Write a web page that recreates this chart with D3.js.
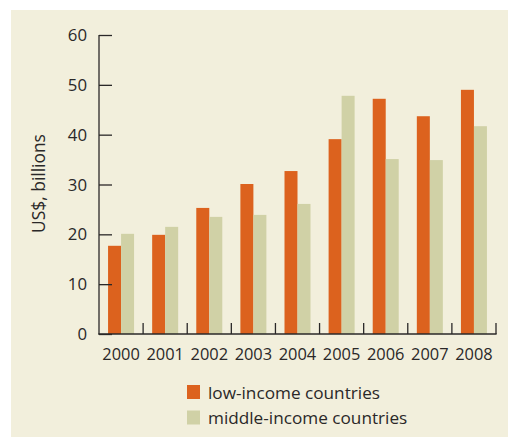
<!DOCTYPE html>
<html><head><meta charset="utf-8">
<script src="https://cdn.jsdelivr.net/npm/d3@7/dist/d3.min.js"></script>
<style>body{margin:0;background:#fff}svg{display:block}text{font-family:"Open Sans",sans-serif;fill:#2a2828}</style>
</head><body>
<svg id="c" width="508" height="438"></svg>
<script>
const years = ["2000","2001","2002","2003","2004","2005","2006","2007","2008"];
const lowIncome = [17.7, 19.9, 25.3, 30.1, 32.7, 39.1, 47.2, 43.7, 49.0];
const middleIncome = [20.1, 21.5, 23.5, 23.9, 26.1, 47.8, 35.1, 34.9, 41.7];
const yTicks = [0, 10, 20, 30, 40, 50, 60];
const seriesNames = ["low-income countries", "middle-income countries"];
const colors = ["#dc621e", "#d0d1a6"];

const svg = d3.select("#c");
svg.append("rect").attr("x", 11).attr("y", 10).attr("width", 497).attr("height", 427).attr("fill", "#f2efdc");

const x = d3.scaleBand().domain(years).range([99, 496]).paddingInner(0).paddingOuter(0);
const y = d3.scaleLinear().domain([0, 60]).range([334, 35]);
const barW = 13;

const series = [lowIncome, middleIncome];
series.forEach((vals, si) => {
  svg.append("g").selectAll("rect").data(years).join("rect")
    .attr("x", (d) => x(d) + x.bandwidth() / 2 - barW + si * barW)
    .attr("width", barW)
    .attr("y", (d, i) => y(vals[i]))
    .attr("height", (d, i) => y(0) - y(vals[i]))
    .attr("fill", colors[si]);
});

// y axis
const yAxis = d3.axisRight(y).tickValues(yTicks).tickSize(13).tickFormat("");
const gy = svg.append("g").attr("transform", "translate(99,0)").call(yAxis);
gy.select(".domain").remove();
gy.selectAll(".tick line").attr("stroke", "#2a2828").attr("stroke-width", 1.3);
svg.append("line").attr("x1", 99).attr("x2", 99).attr("y1", 35).attr("y2", 334.5).attr("stroke", "#2a2828").attr("stroke-width", 1.3);
svg.append("g").selectAll("text").data(yTicks).join("text")
  .attr("x", 87).attr("y", (d) => y(d)).attr("dy", "0.36em").attr("text-anchor", "end")
  .attr("font-size", 16.8).text((d) => d);

// x axis
svg.append("line").attr("x1", 98.4).attr("x2", 496.6).attr("y1", 334).attr("y2", 334).attr("stroke", "#2a2828").attr("stroke-width", 1.3);
svg.append("g").selectAll("line").data(years).join("line")
  .attr("x1", (d) => x(d) + x.bandwidth()).attr("x2", (d) => x(d) + x.bandwidth())
  .attr("y1", 334).attr("y2", 323).attr("stroke", "#2a2828").attr("stroke-width", 1.3);
svg.append("g").selectAll("text").data(years).join("text")
  .attr("x", (d) => x(d) + x.bandwidth() / 2).attr("y", 359.5).attr("text-anchor", "middle")
  .attr("font-size", 16.4).text((d) => d);

// y label
svg.append("text").attr("transform", "translate(45,183.5) rotate(-90)").attr("text-anchor", "middle")
  .attr("font-size", 17.4).text("US$, billions");

// legend
const lg = svg.append("g").selectAll("g").data(seriesNames).join("g")
  .attr("transform", (d, i) => `translate(187,${385 + i * 25.5})`);
lg.append("rect").attr("width", 13).attr("height", 14).attr("fill", (d, i) => colors[i]);
lg.append("text").attr("x", 21).attr("y", 13.5).attr("font-size", 17.2).text((d) => d);
</script>
</body></html>
